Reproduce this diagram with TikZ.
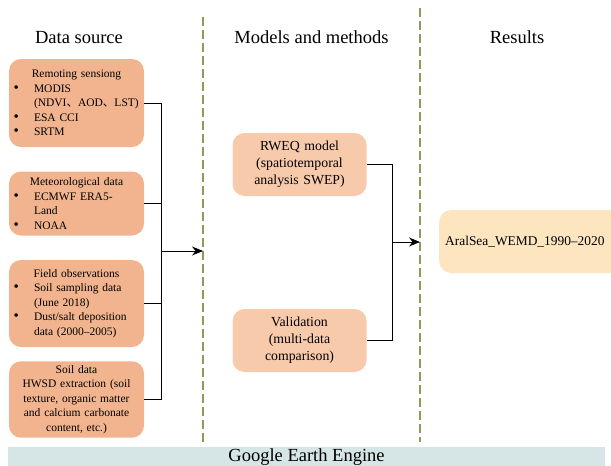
\documentclass[tikz,border=0pt]{standalone}
\usepackage{fontspec}
\setmainfont{Liberation Serif}
\newfontfamily\cjk{Noto Sans CJK SC}
\usetikzlibrary{arrows.meta}
\definecolor{srcfill}{HTML}{F2B48E}
\definecolor{mthfill}{HTML}{F8CAAC}
\definecolor{resfill}{HTML}{FCE5BF}
\definecolor{geefill}{HTML}{D6E6E6}
\definecolor{sepline}{HTML}{8C9A5B}
\newcommand{\bitem}{\makebox[21pt][l]{\hspace{0.5pt}\smash{\fontsize{15}{15}\selectfont\textbullet}}}
\newcommand{\bcont}{\hspace*{21pt}}
\newcommand{\bhead}[1]{\makebox[\hsize]{#1}}
\newcommand{\jpc}{{\cjk 、}}

\begin{document}
\begin{tikzpicture}[x=1pt, y=-1pt,
  srcbox/.style={fill=srcfill, rounded corners=12pt, inner sep=4pt, text width=127pt,
    align=left, font=\fontsize{11.5}{14.5}\selectfont},
  mthbox/.style={fill=mthfill, rounded corners=12pt, inner sep=4pt, text width=126pt,
    minimum height=63pt, align=center, font=\fontsize{13.8}{17}\selectfont},
  coltitle/.style={anchor=base, font=\fontsize{18.5}{22}\selectfont},
  link/.style={line width=0.9pt, black},
  arr/.style={link, -{Stealth[length=11pt, width=9pt]}},
  sep/.style={sepline, line width=1.2pt, dash pattern=on 9pt off 4pt}]
\useasboundingbox (0,0) rectangle (611,466);
\clip (0,0) rectangle (611,466);

% column separators
\coordinate (sepa) at (203,17);
\coordinate (sepb) at (420,8);
\draw[sep] (sepa) -- (203,445);
\draw[sep] (sepb) -- (420,442);

\node[coltitle] (tsrc) at (79,43) {Data source};
\node[coltitle] (tmth) at (311.5,43) {Models and methods};
\node[coltitle] (tres) at (517,43) {Results};

% data sources
\node[srcbox, minimum height=88pt] (rs) at (76.5,103) {%
\bhead{Remoting sensiong}\\
\bitem MODIS\\
\bcont (NDVI\jpc AOD\jpc LST)\\
\bitem ESA CCI\\
\bitem SRTM};
\node[srcbox, minimum height=64pt] (met) at (76.5,203.5) {%
\bhead{Meteorological data}\\
\bitem ECMWF ERA5-\\
\bcont Land\\
\bitem NOAA};
\node[srcbox, minimum height=87pt] (fld) at (76.5,303.5) {%
\bhead{Field observations}\\
\bitem Soil sampling data\\
\bcont (June 2018)\\
\bitem Dust/salt deposition\\
\bcont data (2000--2005)};
\node[srcbox, minimum height=76pt, align=center] (soil) at (76.5,399.5) {%
Soil data\\
HWSD extraction (soil\\
texture, organic matter\\
and calcium carbonate\\
content, etc.)};

% models
\node[mthbox] (rweq) at (299.5,164.5) {RWEQ model\\(spatiotemporal\\analysis SWEP)};
\node[mthbox] (val) at (299.5,340.5) {Validation\\(multi-data\\comparison)};

% result
\node[fill=resfill, rounded corners=12pt, anchor=west, inner xsep=6pt, inner ysep=4pt,
  text width=173pt, minimum height=63pt, align=left, font=\fontsize{13.4}{16}\selectfont]
  (res) at (439,241.5) {AralSea\_WEMD\_1990--2020};

% platform
\node[fill=geefill, anchor=north, minimum width=597pt, minimum height=20pt, inner sep=0pt,
  font=\fontsize{18.5}{22}\selectfont] (gee) at (306.5,447) {Google Earth Engine};

% connectors
\coordinate (srcbus) at (161,251);
\draw[link] (rs.east) -- (rs.east -| srcbus) -- (soil.east -| srcbus) -- (soil.east);
\draw[link] (met.east) -- (met.east -| srcbus);
\draw[link] (fld.east) -- (fld.east -| srcbus);
\draw[arr] (srcbus) -- (srcbus -| sepa);
\coordinate (mthbus) at (392,242);
\draw[link] (rweq.east) -- (rweq.east -| mthbus) -- (val.east -| mthbus) -- (val.east);
\draw[arr] (mthbus) -- (mthbus -| sepb);
\end{tikzpicture}
\end{document}
